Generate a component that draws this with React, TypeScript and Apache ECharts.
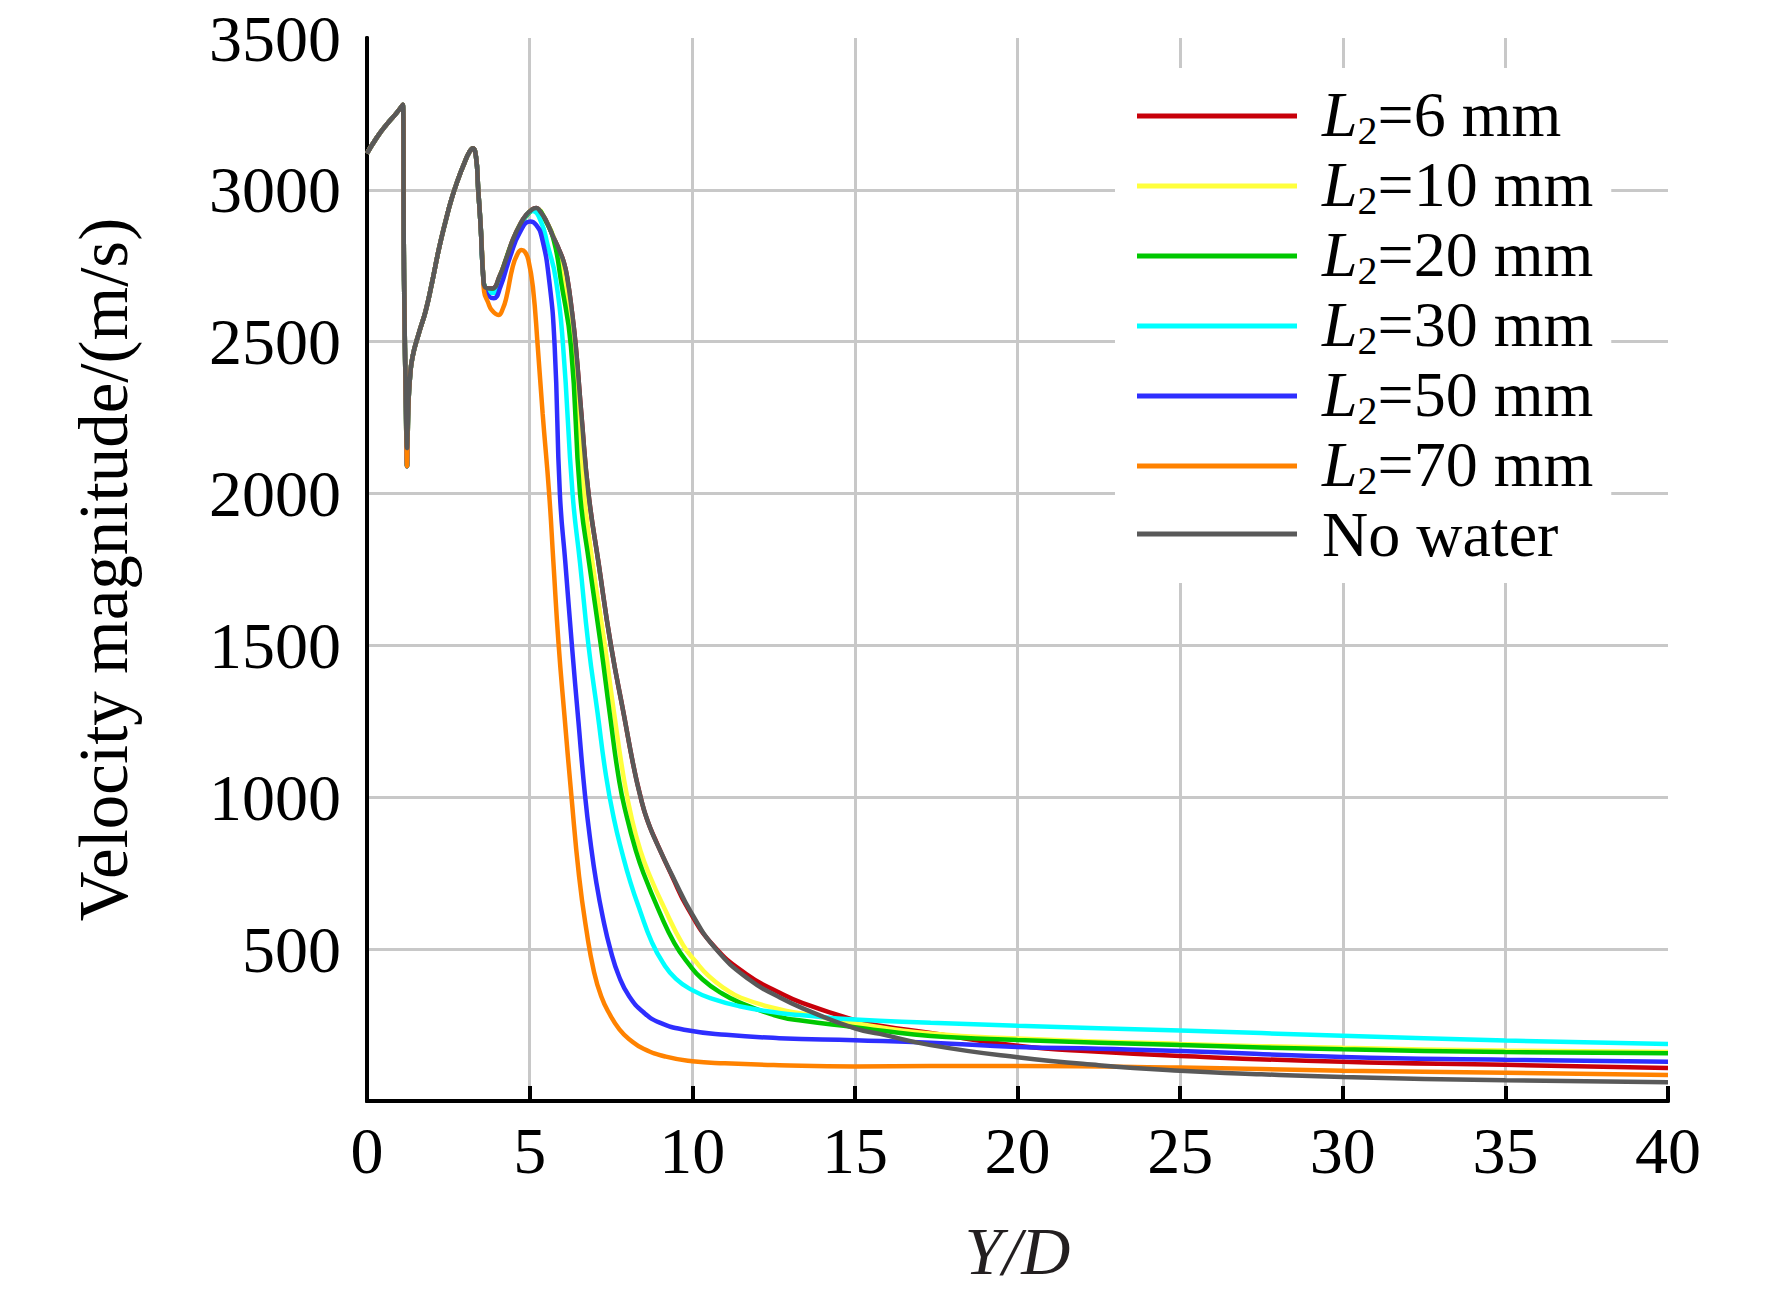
import React, { useEffect, useRef } from "react";
import * as echarts from "echarts";

const FONT = "'Liberation Serif', 'Times New Roman', serif";

const xTicks = [0, 5, 10, 15, 20, 25, 30, 35, 40];
const yTicks = [0, 500, 1000, 1500, 2000, 2500, 3000, 3500];

const seriesNames = ["L2=6 mm", "L2=10 mm", "L2=20 mm", "L2=30 mm", "L2=50 mm", "L2=70 mm", "No water"];
const seriesColors = ["#c8000a", "#ffff3c", "#00c800", "#00ffff", "#2e2eff", "#ff8200", "#595959"];

// Shared start of the jet (all cases)
const headNoWater = [
  [0, 3120], [0.3, 3172], [0.6, 3215], [0.9, 3252], [1.1, 3280], [1.14, 2700], [1.2, 2280], [1.23, 2150],
  [1.27, 2290], [1.32, 2380], [1.4, 2450], [1.6, 2530], [1.8, 2600], [2.0, 2695], [2.2, 2800], [2.4, 2890],
  [2.6, 2970], [2.8, 3035], [3.0, 3090], [3.15, 3125], [3.25, 3137], [3.35, 3110], [3.42, 3000], [3.5, 2870],
  [3.57, 2720],
];
const headWater = [
  [0, 3120], [0.3, 3172], [0.6, 3215], [0.9, 3252], [1.1, 3280], [1.14, 2700], [1.2, 2260], [1.23, 2090],
  [1.27, 2280], [1.32, 2380], [1.4, 2450], [1.6, 2530], [1.8, 2600], [2.0, 2695], [2.2, 2800], [2.4, 2890],
  [2.6, 2970], [2.8, 3035], [3.0, 3090], [3.15, 3125], [3.25, 3137], [3.35, 3110], [3.42, 3000], [3.5, 2870],
  [3.57, 2720],
];

const tailNoWater = [
  [3.63, 2680], [3.85, 2675], [4.07, 2714], [4.3, 2780], [4.5, 2840], [4.7, 2885], [4.9, 2918], [5.08, 2936],
  [5.2, 2940], [5.35, 2925], [5.5, 2900], [5.7, 2852], [5.91, 2802], [6.05, 2762], [6.15, 2715], [6.3, 2600],
  [6.42, 2484], [6.6, 2250], [6.81, 2000], [7.12, 1771], [7.5, 1500], [7.91, 1265], [8.2, 1100], [8.4, 1005],
  [8.65, 915], [8.99, 830], [9.45, 728], [9.96, 622], [10.73, 500], [11.76, 399], [12.67, 342], [13.4, 305],
  [15, 239], [15.77, 221], [17.33, 184], [20, 144], [22.5, 118], [25, 100], [27.5, 88], [30, 79], [35, 68],
  [40, 62],
];
const tailL6 = [
  [3.63, 2680], [3.85, 2675], [4.07, 2714], [4.3, 2780], [4.5, 2840], [4.7, 2885], [4.9, 2918], [5.08, 2936],
  [5.2, 2940], [5.35, 2925], [5.5, 2900], [5.7, 2852], [5.91, 2802], [6.05, 2762], [6.15, 2715], [6.3, 2600],
  [6.42, 2484], [6.6, 2250], [6.81, 2000], [7.12, 1771], [7.5, 1500], [7.91, 1265], [8.18, 1110], [8.38, 1015],
  [8.6, 930], [8.93, 845], [9.38, 740], [9.86, 635], [10.65, 512], [11.66, 418], [12.67, 357], [13.4, 322],
  [15, 266], [15.77, 248], [17.33, 224], [20, 182], [22.5, 162], [25, 148], [30, 129], [35, 119], [40, 109],
];
const tailL10 = [
  [3.63, 2678], [3.85, 2672], [4.07, 2712], [4.5, 2838], [4.9, 2916], [5.2, 2938], [5.5, 2898], [5.75, 2840],
  [6.03, 2703], [6.37, 2484], [6.68, 2000], [6.95, 1760], [7.3, 1510], [7.6, 1275], [7.9, 1060], [8.15, 925],
  [8.42, 820], [8.7, 740], [9.1, 645], [9.71, 515], [10.1, 460], [10.52, 410], [11.0, 370], [11.5, 340],
  [12.67, 302], [13.4, 287], [15, 256], [17.33, 222], [20, 206], [25, 188], [30, 175], [35, 166], [40, 161],
];
const tailL20 = [
  [3.63, 2678], [3.85, 2670], [4.07, 2710], [4.5, 2836], [4.9, 2914], [5.2, 2936], [5.5, 2896], [5.75, 2830],
  [5.96, 2703], [6.27, 2484], [6.55, 2000], [6.83, 1771], [7.19, 1500], [7.47, 1270], [7.76, 1050], [8.0, 930],
  [8.25, 830], [8.5, 750], [9.0, 620], [9.45, 520], [9.9, 450], [10.32, 400], [10.9, 355], [11.45, 325],
  [12.67, 278], [13.4, 264], [15, 243], [15.77, 232], [17.33, 214], [20, 201], [25, 184], [30, 170],
  [35, 161], [40, 157],
];
const tailL30 = [
  [3.63, 2675], [3.9, 2660], [4.1, 2700], [4.5, 2830], [4.8, 2900], [5.1, 2930], [5.35, 2895], [5.55, 2820],
  [5.81, 2703], [6.03, 2484], [6.32, 2000], [6.55, 1771], [6.81, 1500], [7.09, 1277], [7.35, 1070], [7.6, 925],
  [7.85, 815], [8.1, 720], [8.4, 625], [8.75, 525], [9.1, 455], [9.5, 402], [10.0, 365], [10.6, 337],
  [11.45, 312], [12.67, 290], [13.4, 282], [15, 268], [17.33, 258], [20, 248], [25, 232], [30, 215],
  [35, 199], [40, 188],
];
const tailL50 = [
  [3.63, 2670], [3.9, 2643], [4.1, 2680], [4.4, 2780], [4.7, 2860], [5.02, 2896], [5.2, 2885], [5.37, 2846],
  [5.6, 2703], [5.77, 2484], [5.93, 2000], [6.1, 1770], [6.3, 1500], [6.5, 1250], [6.7, 1010], [6.88, 845],
  [7.05, 720], [7.25, 605], [7.48, 500], [7.75, 410], [8.06, 345], [8.5, 292], [9.0, 258], [9.8, 234],
  [11.04, 218], [12.67, 207], [15, 200], [17.33, 192], [20, 178], [22.5, 172], [25, 165], [30, 145],
  [35, 136], [40, 129],
];
const tailL70 = [
  [3.6, 2665], [3.72, 2630], [3.83, 2605], [4.04, 2588], [4.18, 2610], [4.29, 2648], [4.48, 2747], [4.62, 2787],
  [4.75, 2802], [4.86, 2795], [4.96, 2770], [5.1, 2681], [5.25, 2484], [5.4, 2264], [5.6, 2000], [5.73, 1775],
  [5.89, 1505], [6.07, 1270], [6.28, 1010], [6.52, 740], [6.75, 560], [6.98, 425], [7.2, 345], [7.45, 288],
  [7.76, 236], [8.1, 200], [8.5, 172], [9.19, 146], [10.0, 131], [11.0, 124], [12.67, 118], [15, 114],
  [17.33, 115], [20, 115], [25, 110], [30, 100], [35, 93], [40, 86],
];

const seriesData = [
  headWater.concat(tailL6),
  headWater.concat(tailL10),
  headWater.concat(tailL20),
  headWater.concat(tailL30),
  headWater.concat(tailL50),
  headWater.concat(tailL70),
  headNoWater.concat(tailNoWater),
];

export default function App() {
  const ref = useRef<HTMLDivElement>(null);
  useEffect(() => {
    document.body.style.margin = "0";
    const chart = echarts.init(ref.current as HTMLDivElement, null, { renderer: "svg" });
    const axisLineStyle = { color: "#000", width: 4 };
    const splitStyle = { color: "#c8c8c8", width: 3 };
    const option: any = {
      animation: false,
      backgroundColor: "#fff",
      textStyle: { fontFamily: FONT, color: "#000" },
      grid: { left: 367, right: 104, top: 38, bottom: 193, containLabel: false },
      legend: {
        orient: "vertical",
        left: 1115,
        top: 68,
        padding: [14, 18, 17, 22],
        backgroundColor: "#fff",
        itemWidth: 160,
        itemHeight: 5,
        itemGap: 2,
        icon: "rect",
        selectedMode: false,
        data: seriesNames,
        formatter: (name: string) =>
          name === "No water" ? "{w|No water}" : "{L|L}{s|2}{n|" + name.slice(2) + "}",
        textStyle: {
          fontFamily: FONT,
          fontSize: 64,
          color: "#000",
          rich: {
            L: { fontFamily: FONT, fontSize: 64, fontStyle: "italic", color: "#000", padding: [0, 0, 0, 20], verticalAlign: "top" },
            s: { fontFamily: FONT, fontSize: 40, color: "#000", padding: [28, 0, 0, 0], verticalAlign: "top" },
            n: { fontFamily: FONT, fontSize: 64, color: "#000", verticalAlign: "top" },
            w: { fontFamily: FONT, fontSize: 64, color: "#000", padding: [0, 0, 0, 20], verticalAlign: "top" },
          },
        },
      },
      xAxis: [
        {
          type: "value",
          min: xTicks[0],
          max: xTicks[xTicks.length - 1],
          interval: 5,
          name: "Y/D",
          nameLocation: "middle",
          nameGap: 116,
          nameTextStyle: { fontFamily: FONT, fontSize: 68, fontStyle: "italic", color: "#231f20" },
          axisLine: { show: true, lineStyle: axisLineStyle },
          axisTick: { show: true, inside: true, length: 15, lineStyle: { color: "#000", width: 4 } },
          axisLabel: { fontFamily: FONT, fontSize: 66, color: "#000", margin: 16 },
          splitLine: { show: true, showMinLine: false, showMaxLine: false, lineStyle: splitStyle },
        },
        {
          type: "value",
          position: "top",
          min: xTicks[0],
          max: xTicks[xTicks.length - 1],
          interval: 5,
          axisLine: { show: true, lineStyle: axisLineStyle },
          axisTick: { show: false },
          axisLabel: { show: false },
          splitLine: { show: false },
        },
      ],
      yAxis: [
        {
          type: "value",
          min: yTicks[0],
          max: yTicks[yTicks.length - 1],
          interval: 500,
          name: "Velocity magnitude/(m/s)",
          nameLocation: "middle",
          nameGap: 229,
          nameTextStyle: { fontFamily: FONT, fontSize: 69, color: "#000" },
          axisLine: { show: true, lineStyle: axisLineStyle },
          axisTick: { show: false },
          axisLabel: {
            fontFamily: FONT,
            fontSize: 66,
            color: "#000",
            margin: 26,
            formatter: (v: number) => (v === 0 ? "" : String(v)),
          },
          splitLine: { show: true, showMinLine: false, showMaxLine: false, lineStyle: splitStyle },
        },
        {
          type: "value",
          position: "right",
          min: yTicks[0],
          max: yTicks[yTicks.length - 1],
          interval: 500,
          axisLine: { show: true, lineStyle: axisLineStyle },
          axisTick: { show: false },
          axisLabel: { show: false },
          splitLine: { show: false },
        },
      ],
      series: seriesNames.map((name, i) => ({
        name,
        type: "line",
        xAxisIndex: 0,
        yAxisIndex: 0,
        data: seriesData[i],
        showSymbol: false,
        symbol: "none",
        smooth: 0.5,
        color: seriesColors[i],
        lineStyle: { color: seriesColors[i], width: 4.5 },
        z: 2 + i,
      })),
    };
    chart.setOption(option);
    return () => chart.dispose();
  }, []);
  return <div ref={ref} style={{ width: 1772, height: 1294, background: "#fff" }} />;
}
